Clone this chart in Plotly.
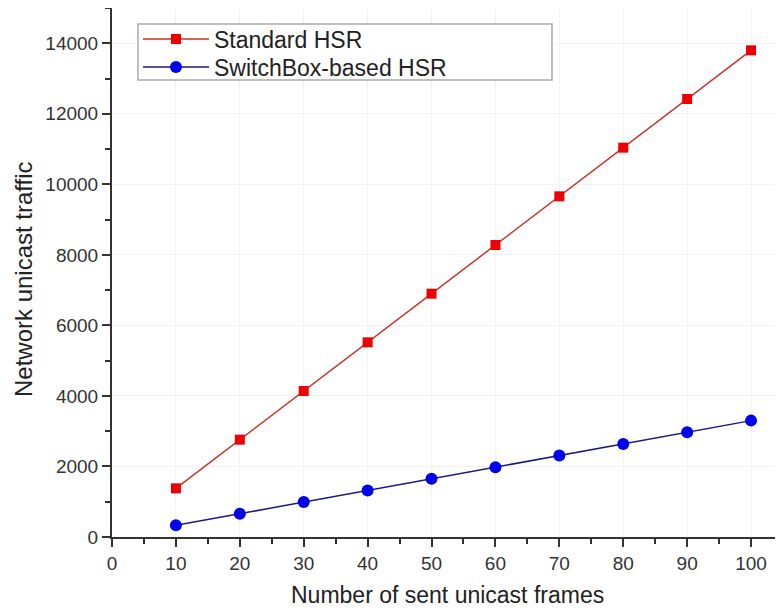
import plotly.graph_objects as go

frames = [10, 20, 30, 40, 50, 60, 70, 80, 90, 100]
standard_hsr = [1380, 2760, 4140, 5520, 6900, 8280, 9660, 11040, 12420, 13800]
switchbox_hsr = [330, 660, 990, 1320, 1650, 1980, 2310, 2640, 2970, 3300]

x_title = "Number of sent unicast frames"
y_title = "Network unicast traffic"

fig = go.Figure()
fig.add_trace(go.Scatter(
    x=frames, y=standard_hsr, name="Standard HSR", mode="lines+markers",
    line=dict(color="#c8302c", width=1.5),
    marker=dict(symbol="square", size=10, color="#ee0000"),
    legend="legend",
))
fig.add_trace(go.Scatter(
    x=frames, y=switchbox_hsr, name="SwitchBox-based HSR", mode="lines+markers",
    line=dict(color="#1a1a80", width=1.5),
    marker=dict(symbol="circle", size=12, color="#0000ee"),
    legend="legend2",
))

family = "Liberation Sans, Arial, sans-serif"
axis_font = dict(family=family, size=19, color="#333333")
leg_common = dict(
    x=0.0387, xanchor="left", yanchor="middle",
    borderwidth=0, bgcolor="rgba(0,0,0,0)",
    font=dict(size=23, color="#222222"),
    itemwidth=66,
)
fig.update_layout(
    width=775, height=606,
    margin=dict(l=104, r=0, t=0, b=77),
    paper_bgcolor="white", plot_bgcolor="white",
    font=dict(family=family, color="#222222"),
    showlegend=True,
    legend=dict(y=0.9414, **leg_common),
    legend2=dict(y=0.8885, **leg_common),
    shapes=[dict(
        type="rect", xref="paper", yref="paper",
        x0=0.0387, x1=0.6557, y0=0.8639, y1=0.9698,
        line=dict(color="#aaaaaa", width=1.5), fillcolor="white", layer="above",
    )],
    xaxis=dict(
        range=[0, 105], tickmode="linear", tick0=0, dtick=10,
        showline=True, linecolor="#333333", linewidth=2,
        ticks="outside", ticklen=8, tickwidth=2, tickcolor="#333333",
        minor=dict(dtick=5, ticks="outside", ticklen=5, tickwidth=2, tickcolor="#333333", showgrid=False),
        showgrid=True, gridcolor="#f3f3f3", zeroline=False,
        tickfont=axis_font, automargin=False,
    ),
    yaxis=dict(
        range=[0, 15000], tickmode="linear", tick0=0, dtick=2000, tickformat="d",
        showline=True, linecolor="#333333", linewidth=2,
        ticks="outside", ticklen=8, tickwidth=2, tickcolor="#333333",
        minor=dict(dtick=1000, ticks="outside", ticklen=5, tickwidth=2, tickcolor="#333333", showgrid=False),
        showgrid=True, gridcolor="#f3f3f3", zeroline=False,
        tickfont=axis_font, automargin=False,
    ),
    annotations=[
        dict(text=x_title, xref="paper", yref="paper", x=0.5, y=-0.1096,
             xanchor="center", yanchor="middle", showarrow=False,
             font=dict(family=family, size=23, color="#222222")),
        dict(text=y_title, xref="paper", yref="paper", x=-0.1326, y=0.4877,
             xanchor="center", yanchor="middle", showarrow=False, textangle=-90,
             font=dict(family=family, size=24, color="#222222")),
    ],
)

fig.write_html("out.html")
